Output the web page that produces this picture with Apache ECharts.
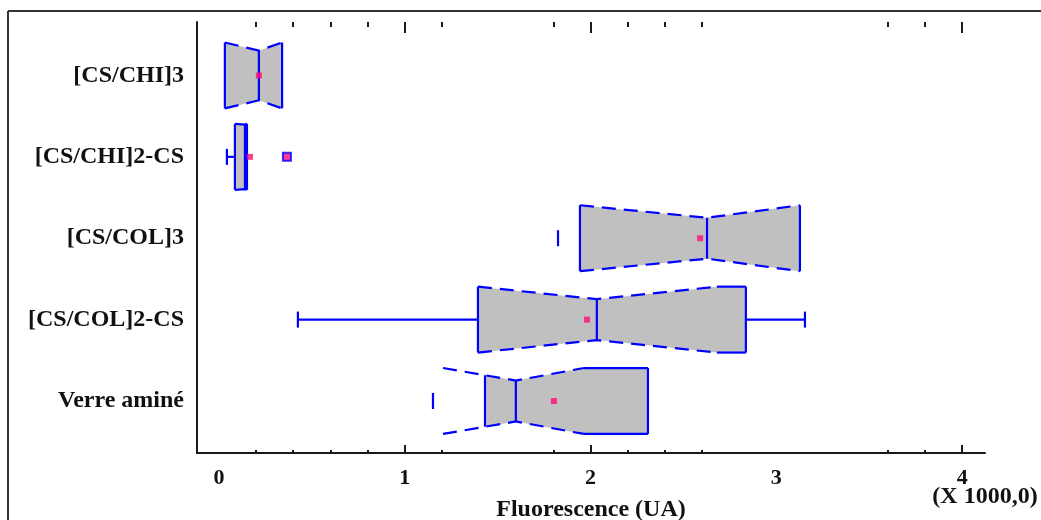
<!DOCTYPE html>
<html>
<head>
<meta charset="utf-8">
<script src="https://cdn.jsdelivr.net/npm/echarts@6/dist/echarts.min.js"></script>
<style>
  html, body { margin: 0; padding: 0; background: #fff; }
  #chart { width: 1041px; height: 520px; }
</style>
</head>
<body>
<div id="chart"></div>
<script>
// ---- data (raw fluorescence units) ----
const categories = ['[CS/CHI]3', '[CS/CHI]2-CS', '[CS/COL]3', '[CS/COL]2-CS', 'Verre aminé'];
const minVals    = [32,   43,  1825,  425, 1152];
const q1Vals     = [32,   86,  1943, 1394, 1432];
const medianVals = [215, 140,  2627, 2034, 1598];
const q3Vals     = [340, 151,  3127, 2836, 2309];
const maxVals    = [340, 151,  3127, 3154, 2309];
const notchLow   = [32,   86,  1943, 1394, 1206];
const notchHigh  = [340, 151,  3127, 2680, 1964];
const meanVals   = [215, 167,  2590, 1981, 1803];
const whiskerLine = [false, true, false, true, false];
const outlierVals = [366];
const outlierCats = [1];
const xLabelValues = [0, 1000, 2000, 3000, 4000];
const majorTickValues = [1000, 2000, 4000];
const minorTickValues = [200, 400, 600, 800, 1200, 1800, 2200, 2400, 2600, 3600, 3800];

const BLUE = '#0000ff';
const GRAY = '#c0c0c0';
const MAG = '#ff0a78';
const FONT = 'Liberation Serif';

const boxData = categories.map((c, i) => [i, minVals[i], q1Vals[i], medianVals[i], q3Vals[i], maxVals[i], notchLow[i], notchHigh[i]]);
const meanData = categories.map((c, i) => [meanVals[i], i]);
const outlierData = outlierVals.map((v, k) => [v, outlierCats[k]]);

function renderBox(params, api) {
  const i = api.value(0);
  const mn = api.value(1), q1 = api.value(2), md = api.value(3), q3 = api.value(4), mx = api.value(5);
  const nLo = api.value(6), nHi = api.value(7);
  const H = 0.405;
  const px = v => api.coord([v, i])[0];
  const yc = api.coord([0, i])[1];
  const a = api.coord([0, i - H])[1], b = api.coord([0, i + H])[1];
  const top = Math.min(a, b), bot = Math.max(a, b);
  const pLo = px(nLo), pMd = px(md), pHi = px(nHi);
  const d = Math.min(12.5, 0.35 * Math.min(pMd - pLo, pHi - pMd));
  function off(x) {
    const p = px(x);
    if (p <= pLo || p >= pHi) return 0;
    if (p < pMd) return d * (p - pLo) / (pMd - pLo);
    return d * (pHi - p) / (pHi - pMd);
  }
  const xs = [q1, q3, md, nLo, nHi].filter(v => v >= q1 && v <= q3).sort((u, v) => u - v);
  const topPts = xs.map(v => [px(v), top + off(v)]);
  const botPts = xs.slice().reverse().map(v => [px(v), bot - off(v)]);
  const children = [];
  children.push({ type: 'polygon', shape: { points: topPts.concat(botPts) }, style: { fill: GRAY, stroke: null } });
  const dashStyle = { stroke: BLUE, lineWidth: 2.2, lineDash: [14, 8], fill: null };
  const solid = { stroke: BLUE, lineWidth: 2.2, fill: null };
  children.push({ type: 'polyline', shape: { points: [[pLo, top], [pMd, top + d], [pHi, top]] }, style: dashStyle });
  children.push({ type: 'polyline', shape: { points: [[pLo, bot], [pMd, bot - d], [pHi, bot]] }, style: dashStyle });
  if (q1 < nLo) {
    children.push({ type: 'line', shape: { x1: px(q1), y1: top, x2: pLo, y2: top }, style: solid });
    children.push({ type: 'line', shape: { x1: px(q1), y1: bot, x2: pLo, y2: bot }, style: solid });
  }
  if (nHi < q3) {
    children.push({ type: 'line', shape: { x1: pHi, y1: top, x2: px(q3), y2: top }, style: solid });
    children.push({ type: 'line', shape: { x1: pHi, y1: bot, x2: px(q3), y2: bot }, style: solid });
  }
  children.push({ type: 'line', shape: { x1: px(q1), y1: top + off(q1), x2: px(q1), y2: bot - off(q1) }, style: solid });
  children.push({ type: 'line', shape: { x1: px(q3), y1: top + off(q3), x2: px(q3), y2: bot - off(q3) }, style: solid });
  children.push({ type: 'line', shape: { x1: pMd, y1: top + d, x2: pMd, y2: bot - d }, style: solid });
  const cap = 8;
  if (mn < q1) {
    if (whiskerLine[i]) children.push({ type: 'line', shape: { x1: px(mn), y1: yc, x2: px(q1), y2: yc }, style: solid });
    children.push({ type: 'line', shape: { x1: px(mn), y1: yc - cap, x2: px(mn), y2: yc + cap }, style: solid });
  }
  if (mx > q3) {
    if (whiskerLine[i]) children.push({ type: 'line', shape: { x1: px(q3), y1: yc, x2: px(mx), y2: yc }, style: solid });
    children.push({ type: 'line', shape: { x1: px(mx), y1: yc - cap, x2: px(mx), y2: yc + cap }, style: solid });
  }
  return { type: 'group', children };
}

const XMIN = -118, XMAX = 4123;
const axisColor = '#1a1a1a';
function tickAxis(pos, values, len, showLine) {
  return {
    type: 'value', position: pos, min: XMIN, max: XMAX,
    axisLine: { show: showLine, onZero: false, lineStyle: { color: axisColor, width: 2 } },
    axisTick: { show: true, inside: true, length: len, customValues: values, lineStyle: { color: axisColor, width: 2 } },
    axisLabel: { show: false },
    splitLine: { show: false }
  };
}

const xMain = tickAxis('bottom', majorTickValues, 8, true);
xMain.axisLabel = {
  show: true, customValues: xLabelValues, formatter: v => String(v / 1000),
  fontFamily: FONT, fontWeight: 'bold', fontSize: 22, color: '#111', margin: 14
};
xMain.name = 'Fluorescence (UA)';
xMain.nameLocation = 'middle';
xMain.nameGap = 45;
xMain.nameTextStyle = { fontFamily: FONT, fontWeight: 'bold', fontSize: 24, color: '#111' };

const option = {
  animation: false,
  backgroundColor: '#ffffff',
  grid: { left: 197, right: 56, top: 22, bottom: 67, containLabel: false, outerBoundsMode: 'none' },
  xAxis: [
    xMain,
    tickAxis('bottom', minorTickValues, 3, false),
    tickAxis('top', majorTickValues, 11, false),
    tickAxis('top', minorTickValues, 5, false)
  ],
  yAxis: {
    type: 'value', inverse: true, min: -0.657, max: 4.639,
    axisLine: { show: true, onZero: false, lineStyle: { color: axisColor, width: 2 } },
    axisTick: { show: false },
    splitLine: { show: false },
    axisLabel: {
      customValues: [0, 1, 2, 3, 4], formatter: v => categories[v],
      fontFamily: FONT, fontWeight: 'bold', fontSize: 24, color: '#111', margin: 13
    }
  },
  series: [
    { type: 'custom', xAxisIndex: 0, renderItem: renderBox, data: boxData, encode: { x: [1, 2, 3, 4, 5], y: 0 }, z: 2 },
    { type: 'scatter', xAxisIndex: 0, data: meanData, symbol: 'rect', symbolSize: 6, itemStyle: { color: MAG }, z: 3 },
    { type: 'scatter', xAxisIndex: 0, data: outlierData, symbol: 'rect', symbolSize: 8, itemStyle: { color: MAG, borderColor: BLUE, borderWidth: 2 }, z: 3 }
  ],
  graphic: [
    { type: 'line', shape: { x1: 8, y1: 11, x2: 1041, y2: 11 }, style: { stroke: '#333', lineWidth: 2 } },
    { type: 'line', shape: { x1: 8, y1: 11, x2: 8, y2: 520 }, style: { stroke: '#333', lineWidth: 2 } },
    { type: 'text', x: 985, y: 497, style: { text: '(X 1000,0)', font: 'bold 24px "Liberation Serif"', fill: '#111', textAlign: 'center', textVerticalAlign: 'middle' } }
  ]
};

const chart = echarts.init(document.getElementById('chart'), null, { renderer: 'canvas' });
chart.setOption(option);
</script>
</body>
</html>
